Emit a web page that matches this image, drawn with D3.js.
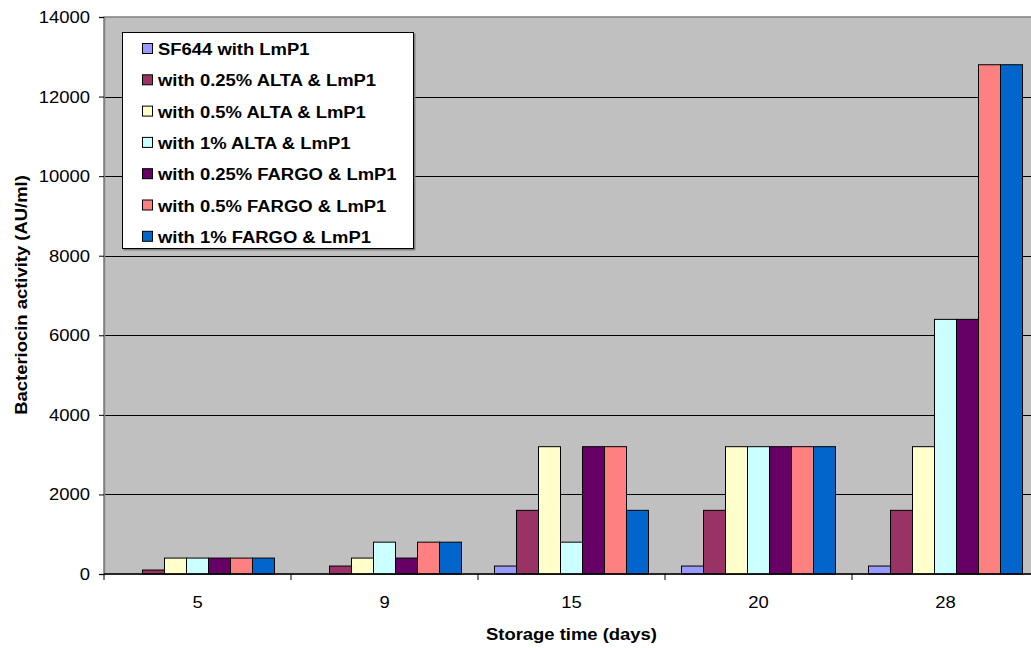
<!DOCTYPE html>
<html>
<head>
<meta charset="utf-8">
<script src="https://cdn.jsdelivr.net/npm/d3@7"></script>
<style>
  body { margin: 0; background: white; }
  svg { display: block; font-family: Arial, "Liberation Sans", sans-serif; }
</style>
</head>
<body>
<div class="content"></div>
<script>
// data
const days = ['5', '9', '15', '20', '28']
const seriesNames = [
  'SF644 with LmP1',
  'with 0.25% ALTA & LmP1',
  'with 0.5% ALTA & LmP1',
  'with 1% ALTA & LmP1',
  'with 0.25% FARGO & LmP1',
  'with 0.5% FARGO & LmP1',
  'with 1% FARGO & LmP1'
]
const sf644 = [0, 0, 200, 200, 200]
const alta025 = [100, 200, 1600, 1600, 1600]
const alta05 = [400, 400, 3200, 3200, 3200]
const alta1 = [400, 800, 800, 3200, 6400]
const fargo025 = [400, 400, 3200, 3200, 6400]
const fargo05 = [400, 800, 3200, 3200, 12800]
const fargo1 = [400, 800, 1600, 3200, 12800]
const seriesValues = [sf644, alta025, alta05, alta1, fargo025, fargo05, fargo1]
const colors = ['#9999FF', '#993366', '#FFFFCC', '#CCFFFF', '#660066', '#FF8080', '#0066CC']
const yTicks = [0, 2000, 4000, 6000, 8000, 10000, 12000, 14000]

const width = 1031
const height = 648
const plotLeft = 104
const plotRight = 1039
const plotTop = 17
const plotBottom = 574
const fontSize = 17
const stretch = 1.085 // the original text is a bit wider than Arial

const svg = d3.select('div.content')
  .append('svg')
  .attr('width', width)
  .attr('height', height)

const x0 = d3.scaleBand().domain(days).range([plotLeft, plotRight]).padding(0)
const x1 = d3.scaleBand().domain(d3.range(seriesNames.length))
  .range([0, x0.bandwidth()]).paddingInner(0).paddingOuter(0.75)
const y = d3.scaleLinear().domain([0, 14000]).range([plotBottom, plotTop])

// helper: text placed at (x,y), stretched horizontally
function addText(parent, x, yPos, str, opts = {}) {
  const g = parent.append('g')
    .attr('transform', `translate(${x},${yPos}) rotate(${opts.rotate || 0}) scale(${stretch},1)`)
  return g.append('text')
    .attr('text-anchor', opts.anchor || 'start')
    .attr('font-size', fontSize)
    .attr('font-weight', opts.bold ? 'bold' : 'normal')
    .text(str)
}

// plot background
svg.append('rect')
  .attr('x', plotLeft)
  .attr('y', plotTop)
  .attr('width', plotRight - plotLeft)
  .attr('height', plotBottom - plotTop)
  .attr('fill', '#C0C0C0')
  .attr('stroke', '#808080')
  .attr('stroke-width', 1.5)

// gridlines
svg.append('g')
  .selectAll('line')
  .data(yTicks.filter(d => d > 0 && d < 14000))
  .join('line')
  .attr('x1', plotLeft)
  .attr('x2', plotRight)
  .attr('y1', d => Math.round(y(d)) + 0.5)
  .attr('y2', d => Math.round(y(d)) + 0.5)
  .attr('stroke', 'black')
  .attr('stroke-width', 1)

// bars
const groups = svg.append('g')
  .selectAll('g')
  .data(seriesValues)
  .join('g')
  .attr('fill', (d, i) => colors[i])

groups.each(function(vals, si) {
  d3.select(this)
    .selectAll('rect')
    .data(vals.map((v, di) => ({day: days[di], value: v})).filter(d => d.value > 0))
    .join('rect')
    .attr('x', d => x0(d.day) + x1(si))
    .attr('y', d => y(d.value))
    .attr('width', x1.bandwidth())
    .attr('height', d => y(0) - y(d.value))
    .attr('stroke', 'black')
    .attr('stroke-width', 1)
})

// y axis
const yAxis = d3.axisLeft(y).tickValues(yTicks).tickSize(5).tickFormat(d3.format('d'))
const yG = svg.append('g')
  .attr('transform', `translate(${plotLeft},0)`)
  .call(yAxis)
yG.select('.domain').attr('stroke', '#808080').attr('stroke-width', 1.5)
yG.selectAll('.tick line').attr('stroke', 'black')
yG.selectAll('.tick text')
  .attr('font-size', fontSize)
  .attr('font-family', 'Arial, "Liberation Sans", sans-serif')
  .attr('fill', 'black')
  .attr('x', -14 / stretch)
  .attr('transform', `scale(${stretch},1)`)

// x axis (ticks at category boundaries)
svg.append('line')
  .attr('x1', plotLeft)
  .attr('x2', plotRight)
  .attr('y1', plotBottom)
  .attr('y2', plotBottom)
  .attr('stroke', 'black')
  .attr('stroke-width', 1.5)

const boundaries = days.map(d => x0(d)).concat([plotRight])
svg.append('g')
  .selectAll('line')
  .data(boundaries)
  .join('line')
  .attr('x1', d => d)
  .attr('x2', d => d)
  .attr('y1', plotBottom)
  .attr('y2', plotBottom + 6)
  .attr('stroke', 'black')

const xLabels = svg.append('g')
days.forEach(d => addText(xLabels, x0(d) + x0.bandwidth() / 2, 608, d, {anchor: 'middle'}))

// axis titles
addText(svg, (plotLeft + plotRight) / 2, 640, 'Storage time (days)', {anchor: 'middle', bold: true})
addText(svg, 27, 295, 'Bacteriocin activity (AU/ml)', {anchor: 'middle', bold: true, rotate: -90})

// legend
const legend = svg.append('g').attr('id', 'legend')
legend.append('rect')
  .attr('x', 123.5)
  .attr('y', 33.5)
  .attr('width', 292)
  .attr('height', 217)
  .attr('fill', '#808080')
legend.append('rect')
  .attr('x', 122.5)
  .attr('y', 32.5)
  .attr('width', 291)
  .attr('height', 216)
  .attr('fill', 'white')
  .attr('stroke', 'black')

seriesNames.forEach((name, i) => {
  const rowY = 49 + i * 31.3
  legend.append('rect')
    .attr('x', 142.5)
    .attr('y', rowY - 5.5)
    .attr('width', 10)
    .attr('height', 10)
    .attr('fill', colors[i])
    .attr('stroke', 'black')
  addText(legend, 158, rowY + 6, name, {bold: true})
})
</script>
</body>
</html>
